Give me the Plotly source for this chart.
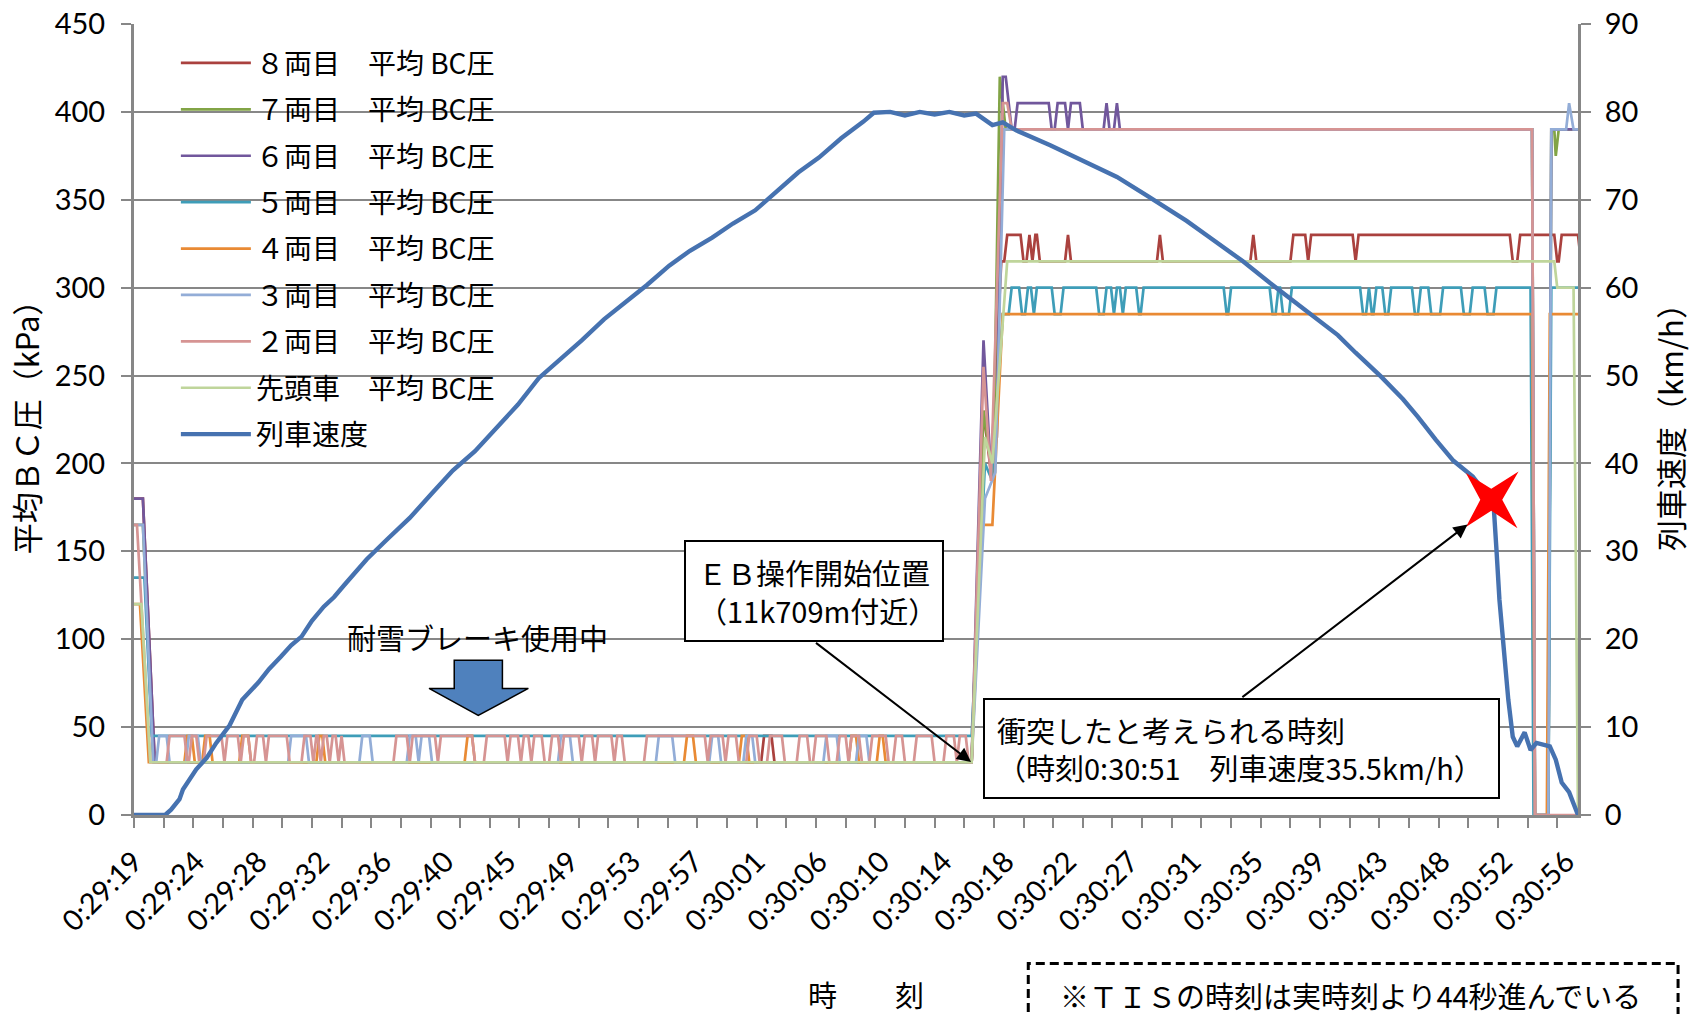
import plotly.graph_objects as go

# ---------------- data ----------------
# x axis: seconds after 0:29:19.8 ; one category label every 21 samples of 0.2 s (= 4.2 s)
X_LABELS = ["0:29:19", "0:29:24", "0:29:28", "0:29:32", "0:29:36", "0:29:40", "0:29:45", "0:29:49",
            "0:29:53", "0:29:57", "0:30:01", "0:30:06", "0:30:10", "0:30:14", "0:30:18", "0:30:22",
            "0:30:27", "0:30:31", "0:30:35", "0:30:39", "0:30:43", "0:30:48", "0:30:52", "0:30:56"]
LABEL_STEP_S = 4.2
T_END = 97.4

SERIES_NAMES = ["８両目　平均 BC圧", "７両目　平均 BC圧", "６両目　平均 BC圧", "５両目　平均 BC圧",
                "４両目　平均 BC圧", "３両目　平均 BC圧", "２両目　平均 BC圧", "先頭車　平均 BC圧", "列車速度"]

# (time s, BC pressure kPa) break points
CAR8_PTS = [(0, 180), (0.6, 180), (1.4, 30), (56.5, 30), (57.3, 230), (57.8, 195), (58.5, 315)]
CAR8_LOW_PULSES = [(42.5, 43.0)]                      # 30 -> 45 kPa
CAR8_HIGH_PULSES = [(58.9, 59.8), (60.4, 60.4), (60.8, 60.9), (63.0, 63.0), (69.2, 69.2), (75.5, 75.5),
                    (78.2, 79.0), (79.4, 82.2), (82.6, 92.8), (93.5, 95.8), (96.3, 97.4)]   # 315 -> 330

CAR7_PTS = [(0, 165), (0.6, 165), (1.3, 30), (56.5, 30), (57.3, 230), (57.8, 200), (58.0, 215),
            (58.4, 420), (58.8, 390), (94.3, 390), (94.5, 0), (95.4, 0), (95.6, 390), (95.8, 390),
            (95.9, 375), (96.1, 390), (97.4, 390)]

CAR6_PTS = [(0, 180), (0.6, 180), (1.4, 30), (56.5, 30), (57.3, 270), (57.8, 195), (58.2, 215),
            (58.6, 420), (58.8, 420), (59.2, 390), (94.3, 390), (94.5, 0), (95.4, 0), (95.6, 390), (97.4, 390)]
CAR6_HIGH_PULSES = [(59.6, 61.7), (62.3, 62.8), (63.2, 63.8), (65.6, 65.6), (66.3, 66.3)]  # 390 -> 405

CAR5_PTS = [(0, 135), (0.7, 135), (1.2, 45), (56.5, 45), (57.4, 200), (57.9, 190), (58.6, 285),
            (59.0, 285), (91.7, 285), (91.9, 300), (94.2, 300), (94.4, 0), (95.4, 0), (95.6, 300), (97.4, 300)]
CAR5_HIGH_PULSES = [(59.2, 59.7), (60.3, 60.5), (60.9, 61.9), (62.7, 64.9), (65.6, 65.9), (66.3, 66.5),
                    (66.9, 67.6), (68.1, 73.5), (74.0, 76.6), (77.2, 77.3), (78.1, 82.7), (83.3, 83.3),
                    (83.8, 84.2), (84.8, 86.2), (86.8, 87.3), (88.3, 89.5), (90.3, 91.1)]   # 285 -> 300

CAR4_PTS = [(0, 120), (0.4, 120), (1.0, 30), (56.5, 30), (57.2, 165), (57.9, 165), (58.6, 285),
            (94.3, 285), (94.5, 0), (95.3, 0), (95.5, 285), (97.4, 285)]
CAR4_LOW_PULSES = [(3.6, 3.9), (4.8, 5.1), (7.3, 7.7), (12.5, 12.7), (22.5, 22.8), (37.3, 37.7),
                   (41.0, 41.3), (48.4, 48.7), (50.3, 50.5)]

CAR3_PTS = [(0, 165), (0.6, 165), (1.3, 30), (56.5, 30), (57.4, 180), (58.1, 195), (58.7, 390),
            (94.3, 390), (94.5, 0), (95.4, 0), (95.6, 390), (96.6, 390), (96.8, 405), (97.1, 390), (97.4, 390)]
CAR3_LOW_PULSES = [(1.7, 2.2), (3.7, 4.3), (10.6, 11.6), (15.4, 15.9), (18.6, 19.0), (19.4, 19.9),
                   (28.8, 29.4), (35.4, 36.3), (39.0, 39.4), (41.3, 41.7), (46.7, 47.4), (48.9, 49.4)]

CAR2_PTS = [(0, 165), (0.2, 165), (1.1, 30), (56.5, 30), (57.3, 255), (57.8, 190), (58.6, 405),
            (58.9, 405), (59.2, 390), (94.3, 390), (94.5, 0), (97.4, 0)]
CAR2_LOW_PULSES = [(2.4, 3.4), (3.9, 4.2), (4.9, 5.9), (6.3, 7.0), (7.4, 7.7), (8.3, 8.7), (9.1, 10.3),
                   (11.5, 11.9), (12.3, 12.4), (12.8, 13.0), (13.4, 13.6), (14.0, 14.0), (17.7, 18.4),
                   (18.8, 20.3), (20.7, 22.8), (23.8, 25.0), (25.4, 25.9), (26.3, 26.6), (27.0, 27.5),
                   (28.2, 28.6), (29.0, 30.0), (30.4, 30.9), (31.3, 32.2), (32.6, 32.9), (34.6, 38.5),
                   (38.9, 39.7), (40.1, 40.6), (41.5, 42.0), (42.9, 43.7), (44.9, 45.4), (46.0, 46.7),
                   (47.6, 48.0), (48.4, 48.9), (49.8, 50.7), (51.4, 51.8), (52.8, 53.8), (54.8, 55.3),
                   (55.7, 56.1)]

CAR1_PTS = [(0, 120), (0.5, 120), (1.1, 30), (56.5, 30), (57.4, 215), (57.9, 200), (58.9, 315),
            (95.8, 315), (96.0, 300), (97.1, 300), (97.4, 0)]

# (time s, km/h)
SPEED_PTS = [(0, 0), (2.1, 0), (2.5, 0.6), (3.07, 1.8), (3.3, 2.9), (4.2, 5.2), (4.9, 6.5), (5.55, 8.2),
             (6.45, 10.2), (7.3, 13.1), (8.4, 15.1), (9.1, 16.6), (9.9, 18.0), (10.6, 19.3), (11.3, 20.3),
             (12.0, 22.1), (12.8, 23.7), (13.5, 24.8), (14.2, 26.2), (14.9, 27.6), (15.7, 29.1),
             (17.1, 31.4), (18.6, 33.8), (20.1, 36.6), (21.5, 39.2), (23.0, 41.4), (24.4, 43.9),
             (25.9, 46.7), (27.3, 49.7), (28.8, 51.9), (30.2, 54.0), (31.7, 56.4), (33.1, 58.3),
             (34.6, 60.3), (36.1, 62.5), (37.5, 64.2), (39.0, 65.7), (40.4, 67.3), (41.9, 68.8),
             (43.3, 70.8), (44.8, 73.1), (46.2, 74.8), (47.7, 77.0), (49.2, 78.9), (49.9, 79.9),
             (51.0, 80.0), (52.0, 79.6), (53.0, 80.0), (54.0, 79.7), (55.0, 80.0), (56.0, 79.6),
             (56.8, 79.8), (57.9, 78.5), (58.6, 78.8), (59.5, 77.9), (61.8, 76.2), (64.0, 74.5),
             (66.3, 72.6), (68.3, 70.5), (71.0, 67.6), (72.4, 65.9), (73.9, 64.1), (74.8, 63.0),
             (76.8, 60.3), (79.6, 56.7), (81.2, 54.6), (82.4, 52.6), (84.1, 49.9), (85.6, 47.3),
             (86.6, 45.3), (87.8, 42.7), (89.0, 40.3), (90.3, 38.5), (91.0, 37.0), (91.7, 35.5),
             (91.9, 30.2), (92.1, 24.5), (92.4, 18.8), (92.7, 13.1), (93.0, 8.9), (93.3, 7.8),
             (93.8, 9.4), (94.2, 7.4), (94.6, 8.2), (95.5, 7.8), (95.9, 6.3), (96.3, 3.7),
             (96.8, 2.6), (97.4, 0)]

COLORS = ["#AA413E", "#82A446", "#71579C", "#3E9DB8", "#E98A34", "#93ADD7", "#D69493", "#BFD59B", "#4672B0"]
GRID = "#878787"
JP = "Noto Sans CJK JP"
NUM = "Lato"


def pulses(base, high, intervals, ramp=0.2):
    pts = []
    for s, e in intervals:
        pts += [(s - ramp, base), (s, high), (e, high), (e + ramp, base)]
    return pts


def build(points, *groups):
    allp = list(points)
    for base, high, iv in groups:
        allp += pulses(base, high, iv)
    allp.sort(key=lambda p: p[0])
    return [p[0] for p in allp], [p[1] for p in allp]


series_bc = [
    build(CAR8_PTS, (30, 45, CAR8_LOW_PULSES), (315, 330, CAR8_HIGH_PULSES)),
    build(CAR7_PTS),
    build(CAR6_PTS, (390, 405, CAR6_HIGH_PULSES)),
    build(CAR5_PTS, (285, 300, CAR5_HIGH_PULSES)),
    build(CAR4_PTS, (30, 45, CAR4_LOW_PULSES)),
    build(CAR3_PTS, (30, 45, CAR3_LOW_PULSES)),
    build(CAR2_PTS, (30, 45, CAR2_LOW_PULSES)),
    build(CAR1_PTS),
]

fig = go.Figure()
for i, (xs, ys) in enumerate(series_bc):
    fig.add_trace(go.Scatter(x=xs, y=ys, mode="lines", name=SERIES_NAMES[i], legendgroup=f"g{i}",
                             line=dict(color=COLORS[i], width=2.7), yaxis="y"))
fig.add_trace(go.Scatter(x=[p[0] for p in SPEED_PTS], y=[p[1] for p in SPEED_PTS], mode="lines",
                         name=SERIES_NAMES[8], legendgroup="g8",
                         line=dict(color=COLORS[8], width=4.4), yaxis="y2"))

tickvals = [i * LABEL_STEP_S for i in range(len(X_LABELS))]

fig.update_layout(
    width=1693, height=1014,
    margin=dict(l=134, r=115, t=24, b=199, autoexpand=False),
    paper_bgcolor="white", plot_bgcolor="white",
    font=dict(family=NUM, size=29, color="black"),
    legend=dict(x=0.029, y=0.982, xanchor="left", yanchor="top", bgcolor="rgba(0,0,0,0)",
                font=dict(family=JP, size=28, color="black"), tracegroupgap=7, itemwidth=70),
    xaxis=dict(range=[0, T_END], tickmode="array", tickvals=tickvals, ticktext=X_LABELS,
               tickangle=-45, ticks="", showgrid=False, zeroline=False, showline=True,
               linecolor=GRID, linewidth=3, ticklabelstandoff=15,
               tickfont=dict(family=NUM, size=29, color="black"),
               minor=dict(ticks="outside", ticklen=10, tickwidth=2, tickcolor=GRID,
                          tickmode="linear", tick0=0, dtick=2, showgrid=False)),
    yaxis=dict(range=[0, 450], tick0=0, dtick=50, showgrid=True, gridcolor=GRID, gridwidth=2,
               ticks="outside", ticklen=10, tickwidth=2, tickcolor=GRID, showline=True,
               linecolor=GRID, linewidth=3, zeroline=False, ticklabelstandoff=10,
               tickfont=dict(family=NUM, size=29, color="black"),
               title=dict(text="平均ＢＣ圧（kPa）", font=dict(family=JP, size=31), standoff=6)),
    yaxis2=dict(range=[0, 90], tick0=0, dtick=10, overlaying="y", side="right", showgrid=False,
                ticks="outside", ticklen=10, tickwidth=2, tickcolor=GRID, showline=True,
                linecolor=GRID, linewidth=3, zeroline=False, ticklabelstandoff=8,
                tickfont=dict(family=NUM, size=29, color="black"),
                title=dict(text="列車速度（km/h）", font=dict(family=JP, size=31), standoff=24)),
)

# ---------------- annotations ----------------
ann = []
ann.append(dict(x=23.17, y=101.5, xref="x", yref="y", text="耐雪ブレーキ使用中", showarrow=False,
                xanchor="center", font=dict(family=JP, size=29, color="black")))
ann.append(dict(x=37.1, y=156.6, xref="x", yref="y", xanchor="left", yanchor="top",
                text="ＥＢ操作開始位置<br>（11k709m付近）", align="left", showarrow=False,
                width=232, height=74, borderpad=12, borderwidth=2, bordercolor="black", bgcolor="white",
                font=dict(family=JP, size=29, color="black")))
ann.append(dict(x=56.46, y=30.2, xref="x", yref="y", ax=45.9, ay=98.6, axref="x", ayref="y", text="",
                showarrow=True, arrowhead=2, arrowsize=1.4, arrowwidth=2, arrowcolor="black"))
ann.append(dict(x=57.26, y=66.45, xref="x", yref="y", xanchor="left", yanchor="top",
                text="衝突したと考えられる時刻<br>（時刻0:30:51　列車速度35.5km/h）", align="left",
                showarrow=False, width=489, height=73, borderpad=12, borderwidth=2, bordercolor="black",
                bgcolor="white", font=dict(family=JP, size=29, color="black")))
ann.append(dict(x=89.95, y=165.3, xref="x", yref="y", ax=74.66, ay=66.4, axref="x", ayref="y", text="",
                showarrow=True, arrowhead=2, arrowsize=1.4, arrowwidth=2, arrowcolor="black"))
ann.append(dict(x=0.507, y=-0.2267, xref="paper", yref="paper", text="時　　刻", showarrow=False,
                xanchor="center", yanchor="middle", font=dict(family=JP, size=29, color="black")))
ann.append(dict(x=0.8422, y=-0.2274, xref="paper", yref="paper",
                text="※ＴＩＳの時刻は実時刻より44秒進んでいる", showarrow=False,
                xanchor="center", yanchor="middle", font=dict(family=JP, size=29, color="black")))
fig.update_layout(annotations=ann)

shapes = []
# blue block arrow (耐雪ブレーキ)
shapes.append(dict(type="path", xref="x", yref="y",
                   path="M21.6,88 L24.85,88 L24.85,72 L26.6,72 L23.22,56.7 L19.9,72 L21.6,72 Z",
                   fillcolor="#4F81BD", line=dict(color="black", width=1.5), layer="above"))
# red 4-point star at the collision moment
shapes.append(dict(type="path", xref="x", yref="y",
                   path="M89.84,194.5 L91.55,185.6 L93.39,195.4 L92.29,179.3 L93.32,163.2 "
                        "L91.55,173.1 L89.84,163.8 L90.81,179.3 Z",
                   fillcolor="#FF0000", line=dict(width=0), layer="above"))
# dashed note box at the bottom
shapes.append(dict(type="rect", xref="paper", yref="paper", x0=0.6193, x1=1.0693, y0=-0.30, y1=-0.1876,
                   line=dict(color="black", width=3, dash="9px,5px"), fillcolor="rgba(0,0,0,0)"))
fig.update_layout(shapes=shapes)

fig.write_html("out.html", config={"displayModeBar": False},
               post_script="document.body.style.margin='0px';document.body.style.overflow='hidden';")
